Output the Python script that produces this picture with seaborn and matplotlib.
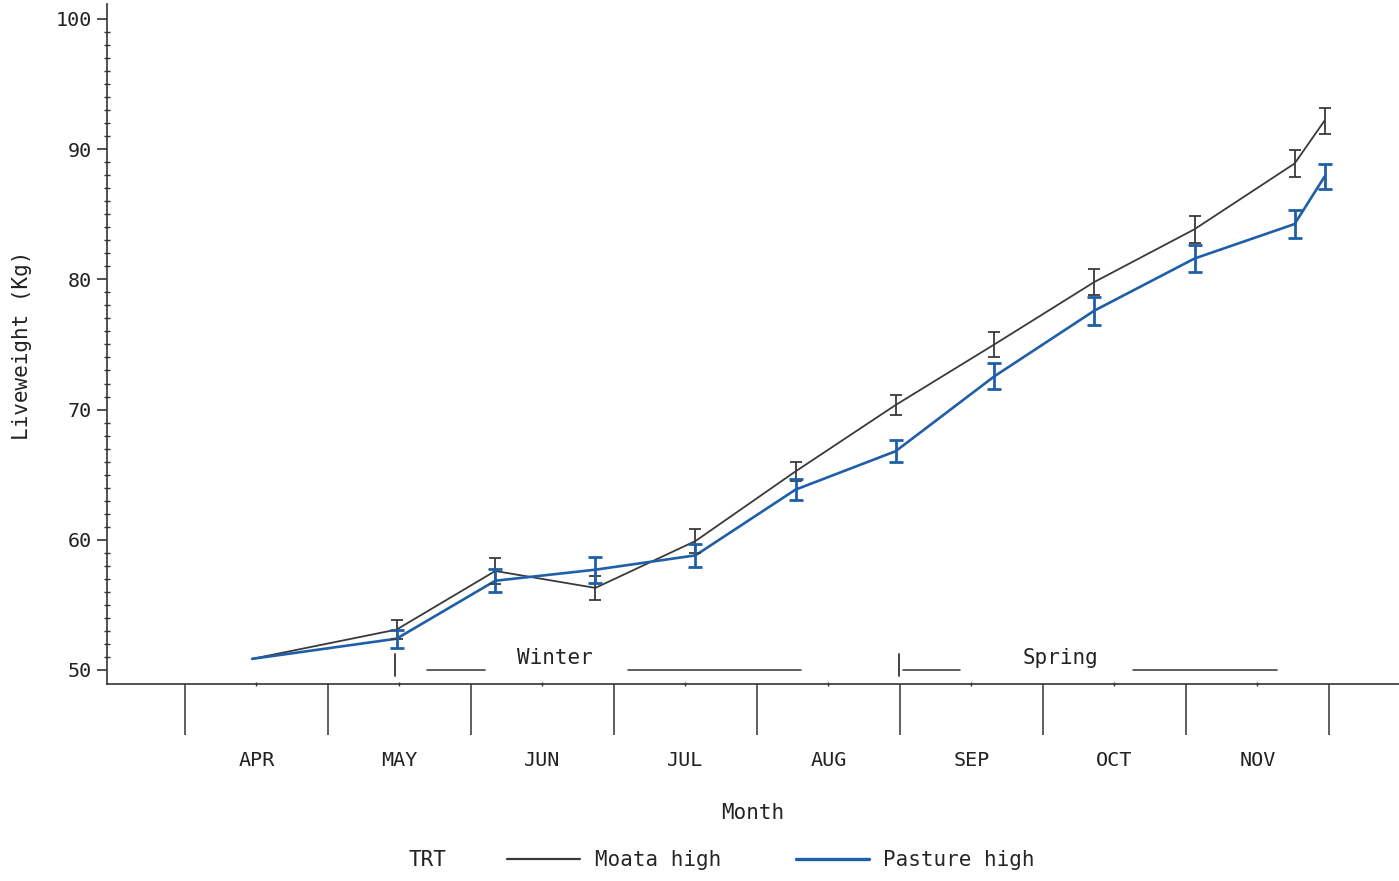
import numpy as np
import pandas as pd
import matplotlib
matplotlib.use("Agg")
import matplotlib.pyplot as plt
import seaborn as sns
from matplotlib.lines import Line2D

# ---- data (x in months since 1 April) ----
x_pos = [0.47, 1.48, 2.17, 2.87, 3.57, 4.27, 4.97, 5.66, 6.36, 7.06, 7.76, 7.97]
moata_mean = [50.85, 53.1, 57.6, 56.3, 59.9, 65.25, 70.35, 75.0, 79.8, 83.85, 88.9, 92.2]
moata_err = [0.0, 0.7, 1.0, 0.9, 0.9, 0.7, 0.8, 0.95, 1.0, 1.05, 1.0, 1.0]
pasture_mean = [50.85, 52.4, 56.85, 57.7, 58.8, 63.85, 66.8, 72.55, 77.6, 81.6, 84.25, 87.9]
pasture_err = [0.0, 0.7, 0.9, 1.0, 0.9, 0.8, 0.85, 1.0, 1.07, 1.07, 1.07, 0.95]
treatments = ["Moata high", "Pasture high"]
months = ["APR", "MAY", "JUN", "JUL", "AUG", "SEP", "OCT", "NOV"]
y_ticks = [50, 60, 70, 80, 90, 100]

# season annotation marks
season_names = ["Winter", "Spring"]
season_text_x = [2.59, 6.12]
season_tick_x = [1.47, 4.99]
season_segments = [[(1.69, 2.10), (3.10, 4.31)], [(5.02, 5.42), (6.63, 7.64)]]

colors = {"Moata high": "#3a3a3a", "Pasture high": "#1f5ea8"}
FONT = "DejaVu Sans Mono"

df = pd.DataFrame({
    "Month": x_pos * 2,
    "Liveweight": moata_mean + pasture_mean,
    "err": moata_err + pasture_err,
    "TRT": [treatments[0]] * len(x_pos) + [treatments[1]] * len(x_pos),
})

sns.set_theme(style="white")
plt.rcParams["font.family"] = [FONT, "DejaVu Sans"]

fig = plt.figure(figsize=(13.99, 8.81), dpi=100)
ax = fig.add_axes([107 / 1399, 1 - 684 / 881, 1 - 107 / 1399, 680 / 881])

sns.lineplot(data=df, x="Month", y="Liveweight", hue="TRT", palette=colors,
             ax=ax, legend=False, errorbar=None, sort=True)
for line, trt in zip(ax.get_lines(), treatments):
    line.set_linewidth(1.3 if trt == "Moata high" else 1.9)

for trt in treatments:
    sub = df[(df["TRT"] == trt) & (df["err"] > 0)]
    lw = 1.3 if trt == "Moata high" else 2.0
    ax.errorbar(sub["Month"], sub["Liveweight"], yerr=sub["err"], fmt="none",
                ecolor=colors[trt], elinewidth=lw, capsize=4.4 if trt == "Moata high" else 4.8,
                capthick=lw)

ax.set_xlim(-0.545, 8.49)
ax.set_ylim(48.92, 101.15)

# y ticks
ax.set_yticks(y_ticks)
ax.set_yticks(np.arange(50, 101, 1), minor=True)
ax.tick_params(axis="y", which="major", direction="out", length=7, width=1.2,
               labelsize=14.5, pad=4, color="#333333", labelcolor="#222222", left=True)
ax.tick_params(axis="y", which="minor", direction="inout", length=5, width=1.0,
               color="#333333", left=True)

# x ticks: boundaries (long) and midpoints (labels)
ax.set_xticks(np.arange(0, len(months) + 1, 1))
ax.set_xticklabels([""] * (len(months) + 1))
ax.set_xticks(np.arange(0.5, len(months), 1), minor=True)
ax.set_xticklabels(months, minor=True)
ax.tick_params(axis="x", which="major", direction="out", length=37, width=1.1,
               color="#333333", bottom=True)
ax.tick_params(axis="x", which="minor", direction="inout", length=3, width=1.0,
               color="#333333", labelsize=14.5, pad=46.5, labelcolor="#222222", bottom=True)

for s in ["top", "right"]:
    ax.spines[s].set_visible(False)
for s in ["left", "bottom"]:
    ax.spines[s].set_color("#333333")
    ax.spines[s].set_linewidth(1.2)

ax.set_xlabel("Month", fontsize=15, labelpad=24, color="#222222")
ax.set_ylabel("Liveweight (Kg)", fontsize=15, color="#222222")
ax.yaxis.set_label_coords(-0.058, 0.4985)

# season annotations
for name, tx, tkx, segs in zip(season_names, season_text_x, season_tick_x, season_segments):
    ax.text(tx, 50.9, name, ha="center", va="center", fontsize=15, color="#222222")
    ax.plot([tkx, tkx], [49.5, 51.2], color="#333333", lw=1.3)
    for a, b in segs:
        ax.plot([a, b], [50, 50], color="#333333", lw=1.1)

# legend
fig.text(427 / 1399, 1 - 860 / 881, "TRT", ha="center", va="center", fontsize=15, color="#222222")
handles = [Line2D([], [], color=colors[t], lw=(1.6 if t == "Moata high" else 2.4)) for t in treatments]
fig.legend(handles, treatments, loc="center", bbox_to_anchor=(771 / 1399, 1 - 860 / 881),
           ncol=2, frameon=False, fontsize=15, handlelength=3.5, handletextpad=0.7,
           columnspacing=3.6)

fig.savefig("out.png", dpi=100)
